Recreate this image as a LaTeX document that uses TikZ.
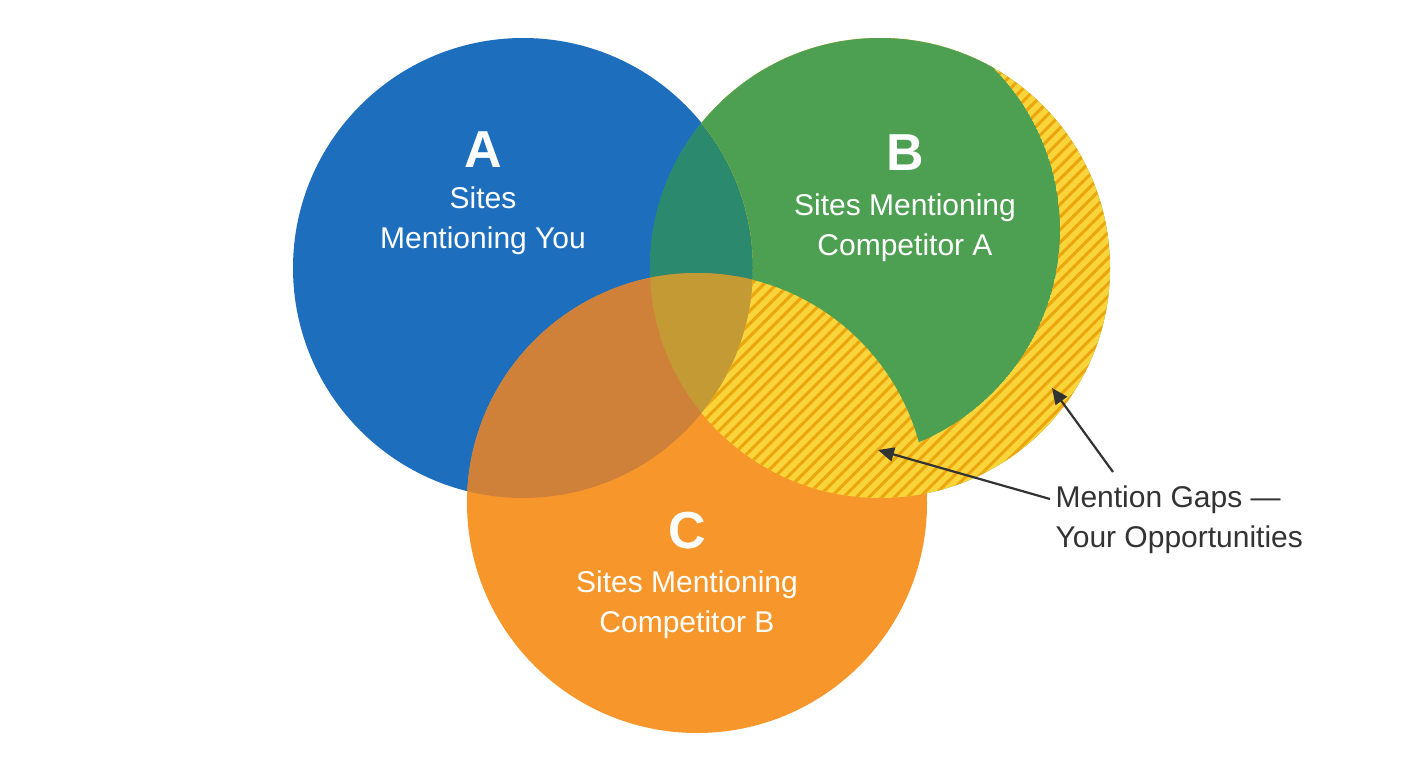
\documentclass[tikz,border=0pt]{standalone}
\usepackage{fontspec}
\setmainfont{Liberation Sans}
\usetikzlibrary{patterns.meta,arrows.meta}
\definecolor{cA}{HTML}{1E6EBE}
\definecolor{cB}{HTML}{4D9F52}
\definecolor{cC}{HTML}{F7962A}
\definecolor{cAB}{HTML}{2B8A6E}
\definecolor{cAC}{HTML}{CF813A}
\definecolor{cABC}{HTML}{C49A34}
\definecolor{hy}{HTML}{F9D43A}
\definecolor{hs}{HTML}{EAA60C}
\definecolor{ink}{HTML}{333333}
\begin{document}
\begin{tikzpicture}[x=1pt,y=-1pt,
  big/.style={text=white,font=\bfseries\fontsize{52}{52}\selectfont},
  lbl/.style={text=white,align=center,font=\fontsize{30}{40}\selectfont},
  note/.style={text=ink,align=left,anchor=west,font=\fontsize{30}{40}\selectfont},
  arr/.style={draw=ink,line width=2.2pt,-{Triangle[length=16pt,width=14pt]}}]
\useasboundingbox (0,0) rectangle (1408,768);
\fill[white] (0,0) rectangle (1408,768);
\def\cA{(523,268) circle (230)}
\def\cB{(880,268) circle (230)}
\def\cC{(697,503) circle (230)}
\def\cD{(830,230) circle (230)}
\fill[cA] \cA;
\fill[cB] \cB;
\fill[cC] \cC;
\begin{scope}\clip \cA; \fill[cAB] \cB; \end{scope}
\begin{scope}\clip \cA; \fill[cAC] \cC; \end{scope}
\begin{scope}\clip \cA; \clip \cB; \fill[cABC] \cC; \end{scope}
% hatched gap region: B minus A
\begin{scope}[even odd rule]
  \clip (-10,-10) rectangle (1420,780) \cA;
  \fill[hy] \cB;
  \fill[pattern={Lines[angle=45,distance=9pt,line width=3pt]},pattern color=hs] \cB;
  \clip \cB; \clip \cD;
  \clip (-10,-10) rectangle (1420,780) \cC;
  \fill[cB] \cD;
\end{scope}
\node[big] (la) at (483,150) {A};
\node[lbl] (ta) at (483,221) {Sites\\Mentioning You};
\node[big] (lb) at (905,153) {B};
\node[lbl] (tb) at (905,228) {Sites Mentioning\\Competitor A};
\node[big] (lc) at (687,531) {C};
\node[lbl] (tc) at (687,605) {Sites Mentioning\\Competitor B};
\node[note] (gap) at (1052,520) {Mention Gaps —\\Your Opportunities};
\coordinate (g1) at (878,450);
\coordinate (g2) at (1052,388);
\coordinate (s1) at (1050,499);
\coordinate (s2) at (1113,472);
\draw[arr] (s1) -- (g1);
\draw[arr] (s2) -- (g2);
\end{tikzpicture}
\end{document}
